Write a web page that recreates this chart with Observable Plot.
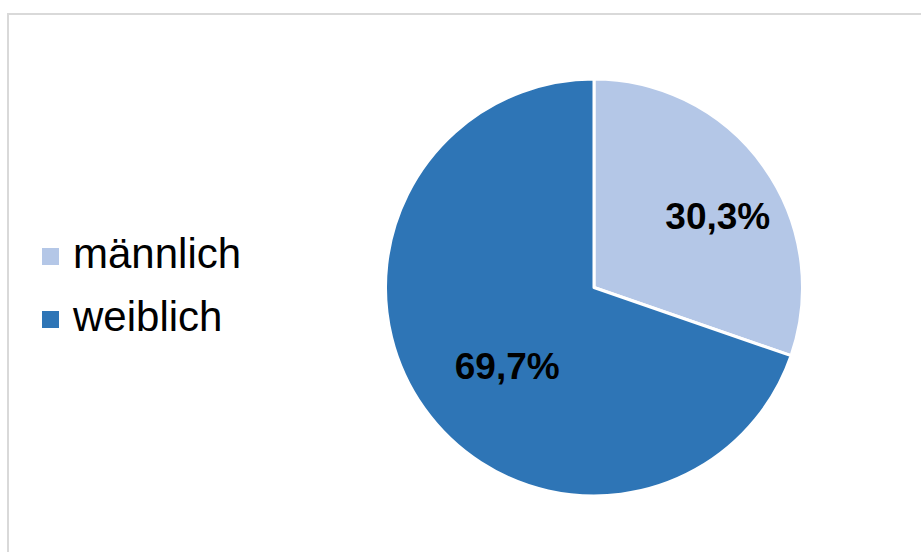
<!DOCTYPE html>
<html><head><meta charset="utf-8">
<script src="https://cdn.jsdelivr.net/npm/d3@7"></script>
<script src="https://cdn.jsdelivr.net/npm/@observablehq/plot@0.6"></script>
<style>
html,body{margin:0;padding:0;background:#fff;width:921px;height:552px;overflow:hidden;}
#wrap{position:relative;width:921px;height:552px;}
#frame{position:absolute;left:7px;top:13px;width:930px;height:560px;border:2px solid #d9d9d9;box-sizing:border-box;}
#legend{position:absolute;left:42px;top:222px;font-family:"Liberation Sans",Arial,sans-serif;font-size:42px;color:#000;}
.item{display:flex;align-items:center;height:63px;}
.sw{width:17px;height:17px;margin-right:14px;margin-top:6px;}
#chart{position:absolute;left:0;top:0;}
</style></head>
<body><div id="wrap"><div id="frame"></div><div id="chart"></div><div id="legend"></div></div>
<script>
const categories = ["männlich", "weiblich"];
const values = [30.3, 69.7];
const labels = ["30,3%", "69,7%"];
const colors = ["#b4c7e7", "#2e75b6"];

const data = categories.map((c, i) => ({category: c, value: values[i], label: labels[i]}));
const pie = d3.pie().sort(null).value(d => d.value)(data);
const labelR = 0.62;
const labelData = pie.map(p => {
  const a = (p.startAngle + p.endAngle) / 2;
  return {label: p.data.label, x: labelR * Math.sin(a), y: -labelR * Math.cos(a)};
});

const pieMark = (index, scales) => {
  const cx = scales.x(0), cy = scales.y(0);
  const r = Math.abs(scales.x(1) - scales.x(0));
  const arc = d3.arc().innerRadius(0).outerRadius(r);
  const g = d3.create("svg:g").attr("transform", `translate(${cx},${cy})`);
  g.selectAll("path").data(pie).join("path")
    .attr("d", arc)
    .attr("fill", d => colors[categories.indexOf(d.data.category)])
    .attr("stroke", "#fff").attr("stroke-width", 3).attr("stroke-linejoin", "round");
  return g.node();
};

const chart = Plot.plot({
  width: 921, height: 552, margin: 0,
  x: {domain: [-1, 1], range: [385.5, 802.5], axis: null},
  y: {domain: [-1, 1], range: [79, 496], axis: null},
  style: {background: "transparent", overflow: "visible"},
  marks: [
    pieMark,
    Plot.text(labelData, {x: "x", y: "y", text: "label", dx: 18, dy: 4,
      fontSize: 37, fontWeight: "bold", fill: "#000",
      fontFamily: "Liberation Sans, Arial, sans-serif"})
  ]
});
document.getElementById("chart").appendChild(chart);

const leg = d3.select("#legend");
categories.forEach((c, i) => {
  const it = leg.append("div").attr("class", "item");
  it.append("div").attr("class", "sw").style("background", colors[i]);
  it.append("span").text(c);
});
</script></body></html>
